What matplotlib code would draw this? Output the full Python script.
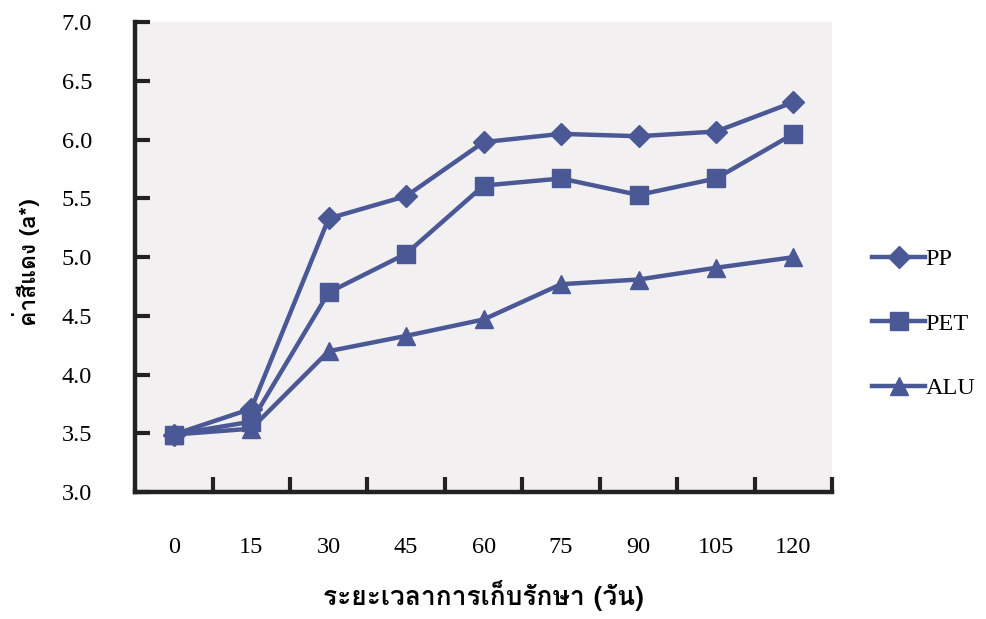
import matplotlib
matplotlib.use("Agg")
import matplotlib.pyplot as plt
from matplotlib import font_manager, ft2font
import numpy as np

days = ["0", "15", "30", "45", "60", "75", "90", "105", "120"]
pp = [3.49, 3.71, 5.33, 5.52, 5.98, 6.05, 6.03, 6.07, 6.32]
pet = [3.49, 3.60, 4.70, 5.03, 5.61, 5.67, 5.53, 5.67, 6.05]
alu = [3.49, 3.54, 4.20, 4.33, 4.47, 4.77, 4.81, 4.91, 5.00]
series_names = ["PP", "PET", "ALU"]
y_ticks = [3.0, 3.5, 4.0, 4.5, 5.0, 5.5, 6.0, 6.5, 7.0]
xlabel = "ระยะเวลาการเก็บรักษา (วัน)"
ylabel = "ค่าสีแดง (a*)"

# find a font with Thai glyphs
thai_font = None
for f in font_manager.fontManager.ttflist:
    try:
        ft = ft2font.FT2Font(f.fname)
        cm = ft.get_charmap()
        if 0x0E04 in cm and 0x0E31 in cm:
            thai_font = f.name
            break
    except Exception:
        pass
thai_families = [thai_font, "DejaVu Sans"] if thai_font else ["DejaVu Sans"]

serif = "Liberation Serif"
color = "#4B5896"
fs = 17.5

fig = plt.figure(figsize=(9.86, 6.19), dpi=100)
ax = fig.add_axes([0.137, 0.205, 0.707, 0.759])
ax.set_facecolor("#F3F0F2")

x = np.arange(len(days))
l1, = ax.plot(x, pp, color=color, lw=3.2, marker="D", ms=11, label=series_names[0], zorder=3)
l2, = ax.plot(x, pet, color=color, lw=3.2, marker="s", ms=12.5, label=series_names[1], zorder=3)
l3, = ax.plot(x, alu, color=color, lw=3.2, marker="^", ms=13, label=series_names[2], zorder=3)

ax.set_xlim(-0.5, len(days) - 0.5)
ax.set_ylim(3.0, 7.0)

ax.set_yticks(y_ticks)
ax.set_yticklabels([f"{v:.1f}" for v in y_ticks], fontfamily=serif, fontsize=fs)
ax.tick_params(axis="y", direction="in", length=11, width=3, pad=31, color="#222222")

ax.set_xticks(x)
ax.set_xticklabels(days, fontfamily=serif, fontsize=fs)
ax.tick_params(axis="x", which="major", length=0, pad=32)
ax.set_xticks(np.arange(0.5, len(days) - 0.5 + 0.01, 1.0), minor=True)
ax.tick_params(axis="x", which="minor", direction="in", length=11, width=3, color="#222222")

for s in ["top", "right"]:
    ax.spines[s].set_visible(False)
for s in ["left", "bottom"]:
    ax.spines[s].set_linewidth(3.2)
    ax.spines[s].set_color("#222222")

ax.set_xlabel(xlabel, family=thai_families, fontsize=19, fontweight="bold", labelpad=16)
ax.set_ylabel(ylabel, family=thai_families, fontsize=16.5, fontweight="bold")
ax.yaxis.set_label_coords(-0.137, 0.49)

leg = fig.legend(handles=[l1, l2, l3], loc="center left", bbox_to_anchor=(0.862, 0.477),
                 frameon=False, prop={"family": serif, "size": fs},
                 labelspacing=1.75, handlelength=2.2, handletextpad=0.0)

fig.savefig("out.png", dpi=100)
